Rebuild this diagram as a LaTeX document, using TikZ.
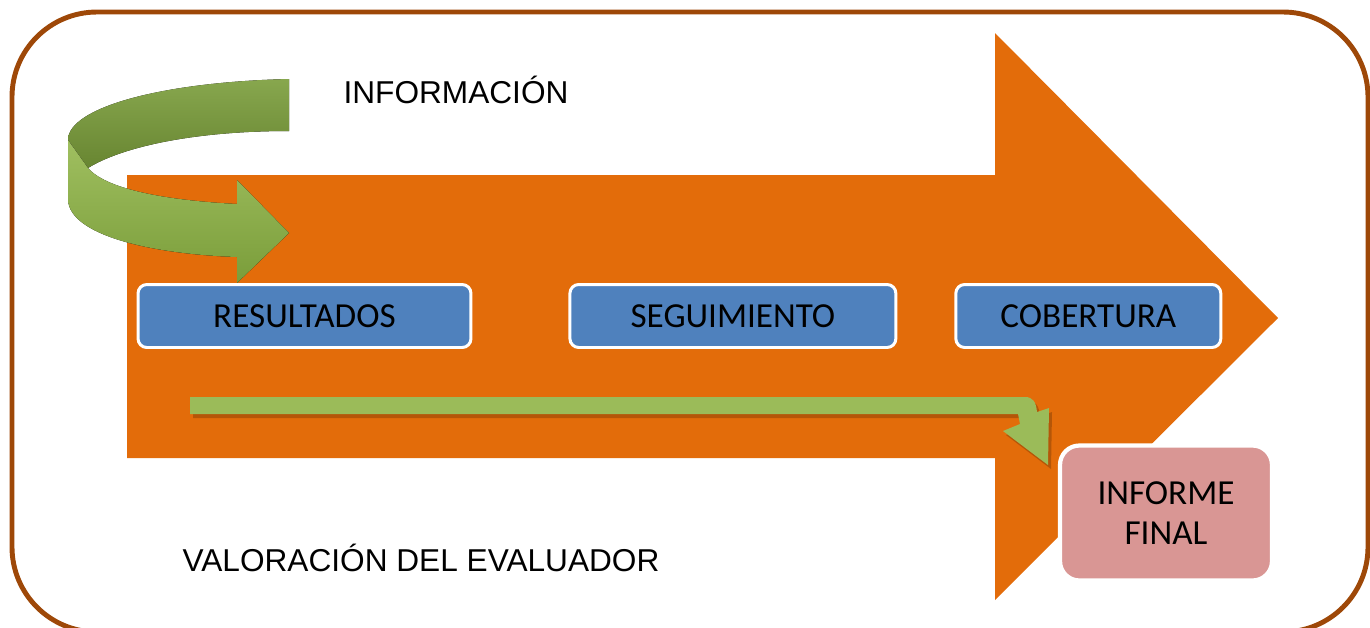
\documentclass[tikz,border=0pt]{standalone}
\usepackage{fontspec}
\setmainfont{Liberation Sans}
\newfontfamily\boxfont{Carlito}
\usetikzlibrary{positioning}
\definecolor{arroworange}{RGB}{227,108,10}
\definecolor{stageblue}{RGB}{79,129,189}
\definecolor{finalpink}{RGB}{217,150,148}
\definecolor{framebrown}{RGB}{158,72,8}
\definecolor{bandgreen}{RGB}{155,187,89}
\definecolor{curvelight}{RGB}{143,180,68}
\definecolor{curvedark}{RGB}{122,157,58}
\tikzstyle{stage} = [draw=white, line width=1.7pt, fill=stageblue, rectangle,
rounded corners=5pt, minimum height=1.26cm, font=\boxfont\fontsize{20}{24}\selectfont]
\tikzstyle{final} = [draw=white, line width=2.4pt, fill=finalpink, rectangle,
rounded corners=11pt, minimum width=4.24cm, minimum height=2.7cm, align=center,
font=\boxfont\fontsize{20}{23}\selectfont]
\tikzstyle{plaintext} = [font=\fontsize{18}{22}\selectfont]

\begin{document}
\begin{tikzpicture}[x=0.02cm, y=-0.02cm]
	\useasboundingbox (0,0) rectangle (1370,627);
	% We start by drawing the frame and the big arrow
	\draw [framebrown, line width=2.8pt, rounded corners=1.7cm] (12,12) rectangle (1368,632);
	\fill [arroworange] (127,175) -- (995,175) -- (995,33) -- (1278,318)
		-- (995,600) -- (995,458) -- (127,458) -- cycle;
	% The green arrow that turns round at the top left
	\fill [top color=curvedark!90!white, bottom color=curvedark!85!black] (289,79) .. controls (160,82) and (68,108) .. (68,140)
		-- (88,168) .. controls (120,148) and (190,131) .. (289,131) -- cycle;
	\fill [top color=curvelight!85!white, bottom color=curvedark] (68,140) -- (68,200)
		.. controls (70,235) and (150,254) .. (237,257) -- (237,283) -- (289,233)
		-- (237,180) -- (237,204) .. controls (160,200) and (105,188) .. (88,168) -- cycle;
	% The green arrow along the bottom of the shaft
	\fill [black, opacity=0.2] (193,401) -- (1028,401) .. controls (1036,401) and (1039,406) .. (1040,416)
		-- (1052,412) -- (1051,469) -- (1006,435) -- (1023,428) -- (1021,418) -- (193,418) -- cycle;
	\fill [bandgreen] (190,397) -- (1025,397) .. controls (1033,397) and (1036,402) .. (1037,412)
		-- (1049,408) -- (1048,465) -- (1003,431) -- (1020,424) -- (1018,414) -- (190,414) -- cycle;
	% Once the shapes are drawn, the boxes and texts go on top
	\node [stage, minimum width=6.66cm] at (304.5,316) (resultados) {RESULTADOS};
	\node [stage, minimum width=6.52cm, right=1.92cm of resultados] (seguimiento) {SEGUIMIENTO};
	\node [stage, minimum width=5.3cm, right=1.14cm of seguimiento] (cobertura) {COBERTURA};
	\node [final] at (1166,513) (informe) {INFORME\\FINAL};
	\node [plaintext] at (456,90) (informacion) {INFORMACIÓN};
	\node [plaintext] at (421,558) (valoracion) {VALORACIÓN DEL EVALUADOR};
\end{tikzpicture}
\end{document}
